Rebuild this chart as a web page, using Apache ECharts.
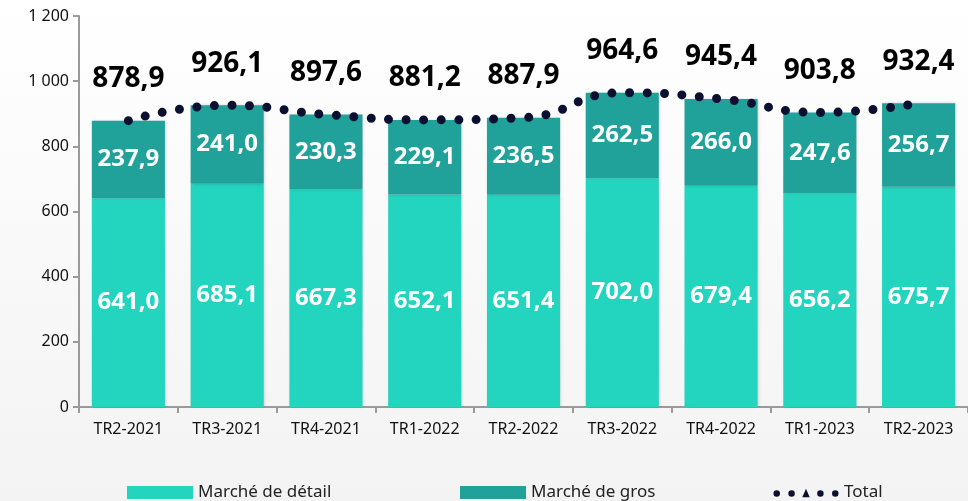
<!DOCTYPE html>
<html><head><meta charset="utf-8">
<script src="https://cdn.jsdelivr.net/npm/echarts@6/dist/echarts.min.js"></script>
<style>html,body{margin:0;padding:0;background:#fff}#c{width:968px;height:501px}</style>
</head><body><div id="c"></div>
<script>
const categories = ['TR2-2021','TR3-2021','TR4-2021','TR1-2022','TR2-2022','TR3-2022','TR4-2022','TR1-2023','TR2-2023'];
const detail = [641.0, 685.1, 667.3, 652.1, 651.4, 702.0, 679.4, 656.2, 675.7];
const gros = [237.9, 241.0, 230.3, 229.1, 236.5, 262.5, 266.0, 247.6, 256.7];
const total = [878.9, 926.1, 897.6, 881.2, 887.9, 964.6, 945.4, 903.8, 932.4];
const yTicks = [0, 200, 400, 600, 800, 1000, 1200];

const FONT = '"Noto Sans", "Open Sans", sans-serif';
const fmt = v => v.toFixed(1).replace('.', ',');
const fmtAxis = v => String(v).replace(/\B(?=(\d{3})+(?!\d))/g, ' ');

const circ = cx => `M${cx-3.5},6a3.5,3.5 0 1,0 7,0a3.5,3.5 0 1,0 -7,0Z`;
const totalIcon = 'path://' + circ(4) + circ(20) + 'M31.5,10L35.5,1L39.5,10Z' + circ(51) + circ(67) + 'M0,0M71,10';

const legendBase = {top: 479, itemWidth: 66, itemHeight: 13, itemGap: 10,
  textStyle: {fontSize: 17, color: '#222', fontFamily: FONT}};

const chart = echarts.init(document.getElementById('c'));
chart.setOption({
  backgroundColor: {type:'linear', x:0, y:0, x2:0, y2:1, colorStops:[{offset:0,color:'#ffffff'},{offset:1,color:'#f3f3f3'}]},
  textStyle: {fontFamily: FONT},
  animation: false,
  grid: {left: 79, top: 16, bottom: 94, width: 895},
  legend: [
    Object.assign({left: 122, data: [{name: 'Marché de détail', icon: 'rect'}]}, legendBase),
    Object.assign({left: 455, data: [{name: 'Marché de gros', icon: 'rect'}]}, legendBase),
    Object.assign({left: 768, data: [{name: 'Total', icon: totalIcon, itemStyle: {color: '#0b1030'}}]}, legendBase, {itemHeight: 11, itemGap: 6})
  ],
  xAxis: {
    type: 'category', data: categories,
    axisLine: {lineStyle: {color: '#9a9a9a', width: 2}},
    axisTick: {show: true, length: 6, lineStyle: {color: '#9a9a9a', width: 2}},
    axisLabel: {fontSize: 16, color: '#111', margin: 14}
  },
  yAxis: {
    type: 'value', min: 0, max: 1200, interval: 200,
    axisLine: {show: true, lineStyle: {color: '#9a9a9a', width: 2}},
    axisTick: {show: true, length: 6, lineStyle: {color: '#9a9a9a', width: 2}},
    splitLine: {show: false},
    axisLabel: {fontSize: 16, color: '#111', margin: 10, formatter: v => yTicks.includes(v) ? fmtAxis(v) : ''}
  },
  series: [
    {
      name: 'Marché de détail', type: 'bar', stack: 's', data: detail,
      barCategoryGap: '26%',
      itemStyle: {color: '#23D4BE', shadowBlur: 3, shadowColor: 'rgba(0,0,0,0.18)', shadowOffsetX: 1, shadowOffsetY: 0},
      label: {show: true, position: 'inside', color: '#fff', fontSize: 24, fontWeight: 'bold', formatter: p => fmt(p.value)}
    },
    {
      name: 'Marché de gros', type: 'bar', stack: 's', data: gros,
      itemStyle: {color: '#20A199', shadowBlur: 3, shadowColor: 'rgba(0,0,0,0.18)', shadowOffsetX: 1, shadowOffsetY: 0},
      label: {show: true, position: 'inside', color: '#fff', fontSize: 24, fontWeight: 'bold', formatter: p => fmt(p.value)}
    },
    {
      name: 'Total', type: 'line', data: total, smooth: true, z: 5,
      symbol: 'circle', symbolSize: 1, showSymbol: true,
      itemStyle: {color: 'rgba(0,0,0,0)'},
      lineStyle: {color: '#0b1030', width: 9, type: [0, 17.5], cap: 'round'},
      label: {show: true, position: 'top', distance: 27, color: '#000', fontSize: 28, fontWeight: 'bold', formatter: p => fmt(p.value)}
    }
  ]
});
</script></body></html>
